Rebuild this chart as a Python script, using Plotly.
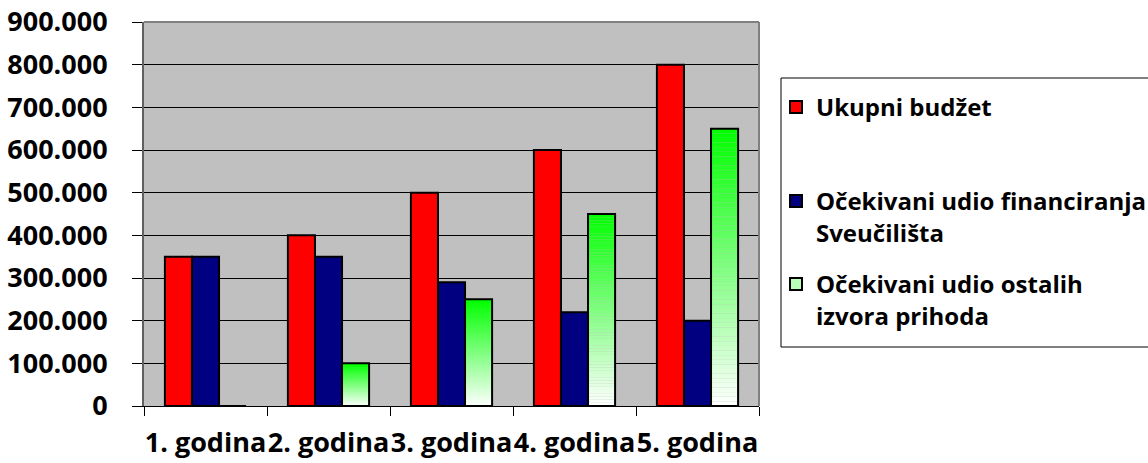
import plotly.graph_objects as go

categories = ["1. godina", "2. godina", "3. godina", "4. godina", "5. godina"]
ukupni = [350000, 400000, 500000, 600000, 800000]
sveuciliste = [350000, 350000, 290000, 220000, 200000]
ostali = [0, 100000, 250000, 450000, 650000]

names = ["Ukupni budžet",
         "Očekivani udio financiranja<br>Sveučilišta",
         "Očekivani udio ostalih<br>izvora prihoda"]

FONT = "Open Sans"
fig = go.Figure()

fig.add_trace(go.Bar(x=categories, y=ukupni, name=names[0], offsetgroup="a",
                     marker=dict(color="#FF0000", line=dict(color="black", width=2)),
                     legend="legend"))
fig.add_trace(go.Bar(x=categories, y=sveuciliste, name=names[1], offsetgroup="b",
                     marker=dict(color="#000080", line=dict(color="black", width=2)),
                     legend="legend2"))

# gradient fill for third series: white at base -> green at top, per bar
N = 60
for k in range(N):
    t = (k + 0.5) / N
    r = int(round(255 * (1 - t)))
    col = f"rgb({r},255,{r})"
    fig.add_trace(go.Bar(x=categories, y=[v / N for v in ostali],
                         base=[v * k / N for v in ostali], offsetgroup="c",
                         marker=dict(color=col, line=dict(width=0)),
                         showlegend=False, hoverinfo="skip"))
fig.add_trace(go.Bar(x=categories, y=ostali, offsetgroup="c", showlegend=False,
                     marker=dict(color="rgba(0,0,0,0)", line=dict(color="black", width=2))))
fig.add_trace(go.Bar(x=categories, y=[None] * len(categories), name=names[2], offsetgroup="c",
                     marker=dict(color="#B8FFB8", line=dict(color="black", width=2)),
                     legend="legend3"))

leg_common = dict(bgcolor="rgba(0,0,0,0)", borderwidth=0, valign="top",
                  font=dict(family=FONT, size=24, color="black", weight="bold"),
                  xanchor="left", yanchor="top")
L, T, B, W = 144, 22, 406, 615
def px2x(px):
    return (px - L) / W
def py2y(py):
    return (B - py) / (B - T)

fig.update_layout(
    width=1148, height=463,
    margin=dict(l=L, r=1148 - L - W, t=T, b=463 - B, autoexpand=False),
    paper_bgcolor="white", plot_bgcolor="#C0C0C0",
    barmode="group", bargap=0.34, bargroupgap=0,
    separators=",.",
    font=dict(family=FONT, color="black"),
    legend=dict(x=px2x(776), y=py2y(85), **leg_common),
    legend2=dict(x=px2x(776), y=py2y(179), **leg_common),
    legend3=dict(x=px2x(776), y=py2y(262), **leg_common),
    shapes=[dict(type="rect", xref="paper", yref="paper",
                 x0=px2x(781), x1=px2x(1170), y0=py2y(347), y1=py2y(78),
                 line=dict(color="black", width=1), fillcolor="rgba(0,0,0,0)")],
    xaxis=dict(showgrid=False, showline=True, linecolor="black", linewidth=1,
               ticks="outside", ticklen=9, tickcolor="black", tickson="boundaries",
               tickangle=0, automargin=False, ticklabeloverflow="allow",
               tickfont=dict(family=FONT, size=27, color="black", weight="bold"),
               ticklabelstandoff=13),
    yaxis=dict(range=[0, 900000], tickvals=list(range(0, 900001, 100000)),
               tickformat=",d", showgrid=True, gridcolor="black", gridwidth=1,
               showline=True, linecolor="#606060", linewidth=2, mirror=False,
               ticks="outside", ticklen=10, tickcolor="black", automargin=False,
               ticklabeloverflow="allow",
               tickfont=dict(family=FONT, size=27, color="black", weight="bold"),
               ticklabelstandoff=19, zeroline=False),
)
# right/top plot border
fig.add_shape(type="line", xref="paper", yref="paper", x0=1, x1=1, y0=0, y1=1,
              line=dict(color="#808080", width=2))
fig.add_shape(type="line", xref="paper", yref="paper", x0=0, x1=1, y0=1, y1=1,
              line=dict(color="#808080", width=2))

fig.write_html("out.html", config={"displayModeBar": False},
               post_script="document.body.style.margin='0';document.body.style.overflow='hidden';")
